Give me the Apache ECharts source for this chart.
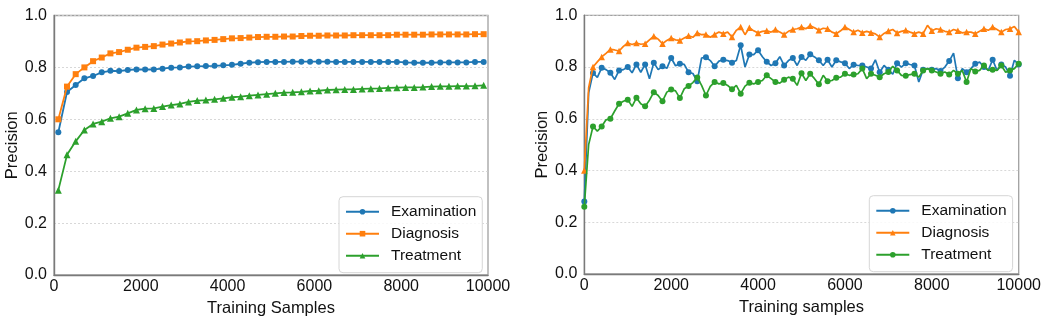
<!DOCTYPE html>
<html>
<head>
<meta charset="utf-8">
<script src="https://cdn.jsdelivr.net/npm/echarts@6/dist/echarts.min.js"></script>
<style>
  html, body { margin: 0; padding: 0; background: #fff; }
  #chart { width: 1051px; height: 328px; }
</style>
</head>
<body>
<div id="chart"></div>
<script>
// ---- left panel: smoothed precision curves, one point every 200 samples ----
const leftSamples = Array.from({ length: 50 }, (_, i) => 100 + 200 * i);

const leftExamination = [
  0.550, 0.705, 0.732, 0.758, 0.767, 0.781, 0.787, 0.786, 0.790, 0.792,
  0.792, 0.792, 0.795, 0.799, 0.800, 0.803, 0.804, 0.805, 0.806, 0.808,
  0.810, 0.814, 0.818, 0.820, 0.821, 0.821, 0.821, 0.822, 0.822, 0.822,
  0.822, 0.822, 0.821, 0.821, 0.821, 0.821, 0.821, 0.821, 0.821, 0.821,
  0.819, 0.818, 0.818, 0.818, 0.819, 0.819, 0.819, 0.819, 0.821, 0.821
];
const leftDiagnosis = [
  0.600, 0.726, 0.774, 0.800, 0.824, 0.838, 0.854, 0.859, 0.868, 0.876,
  0.879, 0.882, 0.888, 0.892, 0.896, 0.900, 0.901, 0.904, 0.906, 0.909,
  0.912, 0.913, 0.915, 0.917, 0.918, 0.918, 0.919, 0.919, 0.921, 0.922,
  0.922, 0.923, 0.923, 0.923, 0.924, 0.924, 0.924, 0.924, 0.924, 0.926,
  0.926, 0.926, 0.926, 0.927, 0.927, 0.927, 0.927, 0.927, 0.928, 0.928
];
const leftTreatment = [
  0.327, 0.463, 0.515, 0.559, 0.582, 0.591, 0.604, 0.610, 0.623, 0.636,
  0.641, 0.642, 0.649, 0.655, 0.659, 0.667, 0.672, 0.674, 0.677, 0.681,
  0.685, 0.687, 0.691, 0.694, 0.697, 0.700, 0.703, 0.704, 0.706, 0.709,
  0.710, 0.713, 0.714, 0.715, 0.715, 0.717, 0.718, 0.719, 0.721, 0.722,
  0.723, 0.723, 0.724, 0.726, 0.727, 0.727, 0.728, 0.728, 0.729, 0.731
];

// ---- right panel: raw precision, one point every 100 samples ----
const rightSamples = Array.from({ length: 101 }, (_, i) => 100 * i);

const rightExamination = [
  0.280, 0.700, 0.777, 0.760, 0.797, 0.790, 0.778, 0.752, 0.787, 0.790,
  0.800, 0.778, 0.810, 0.780, 0.810, 0.755, 0.817, 0.790, 0.803, 0.795,
  0.835, 0.805, 0.813, 0.810, 0.780, 0.775, 0.745, 0.835, 0.838, 0.825,
  0.803, 0.823, 0.828, 0.825, 0.817, 0.825, 0.884, 0.800, 0.848, 0.848,
  0.865, 0.840, 0.820, 0.806, 0.815, 0.840, 0.806, 0.825, 0.835, 0.806,
  0.839, 0.826, 0.849, 0.839, 0.826, 0.806, 0.828, 0.800, 0.826, 0.820,
  0.815, 0.794, 0.809, 0.806, 0.806, 0.800, 0.794, 0.828, 0.780, 0.806,
  0.790, 0.772, 0.815, 0.800, 0.815, 0.810, 0.806, 0.742, 0.790, 0.794,
  0.790, 0.794, 0.785, 0.800, 0.823, 0.854, 0.757, 0.794, 0.780, 0.794,
  0.813, 0.819, 0.800, 0.787, 0.828, 0.787, 0.810, 0.800, 0.766, 0.826,
  0.810
];
const rightDiagnosis = [
  0.400, 0.720, 0.800, 0.820, 0.839, 0.853, 0.868, 0.866, 0.862, 0.880,
  0.893, 0.887, 0.893, 0.888, 0.890, 0.905, 0.919, 0.908, 0.890, 0.903,
  0.912, 0.905, 0.903, 0.912, 0.921, 0.915, 0.932, 0.925, 0.926, 0.915,
  0.926, 0.935, 0.929, 0.935, 0.916, 0.942, 0.955, 0.925, 0.952, 0.940,
  0.932, 0.938, 0.940, 0.935, 0.945, 0.935, 0.926, 0.938, 0.945, 0.948,
  0.955, 0.948, 0.960, 0.952, 0.942, 0.950, 0.948, 0.935, 0.929, 0.940,
  0.955, 0.945, 0.935, 0.942, 0.933, 0.938, 0.933, 0.928, 0.916, 0.930,
  0.939, 0.945, 0.932, 0.938, 0.942, 0.935, 0.929, 0.935, 0.929, 0.961,
  0.940, 0.948, 0.945, 0.938, 0.935, 0.945, 0.940, 0.932, 0.935, 0.935,
  0.929, 0.938, 0.948, 0.942, 0.955, 0.945, 0.935, 0.945, 0.948, 0.957,
  0.935
];
const rightTreatment = [
  0.260, 0.500, 0.570, 0.552, 0.570, 0.596, 0.600, 0.630, 0.658, 0.668,
  0.674, 0.648, 0.681, 0.658, 0.648, 0.672, 0.703, 0.690, 0.668, 0.703,
  0.713, 0.708, 0.680, 0.716, 0.727, 0.740, 0.760, 0.729, 0.690, 0.725,
  0.742, 0.735, 0.738, 0.729, 0.714, 0.729, 0.697, 0.726, 0.739, 0.735,
  0.742, 0.748, 0.768, 0.755, 0.742, 0.738, 0.751, 0.761, 0.755, 0.729,
  0.776, 0.748, 0.774, 0.755, 0.733, 0.768, 0.745, 0.748, 0.759, 0.761,
  0.774, 0.768, 0.771, 0.774, 0.794, 0.755, 0.774, 0.768, 0.761, 0.774,
  0.781, 0.803, 0.787, 0.768, 0.766, 0.771, 0.774, 0.761, 0.787, 0.794,
  0.787, 0.781, 0.774, 0.781, 0.771, 0.787, 0.774, 0.787, 0.742, 0.794,
  0.783, 0.787, 0.806, 0.787, 0.790, 0.787, 0.806, 0.780, 0.787, 0.794,
  0.813
];

const xTicks = [0, 2000, 4000, 6000, 8000, 10000];
const yTicks = [0.0, 0.2, 0.4, 0.6, 0.8, 1.0];

const seriesNames = ['Examination', 'Diagnosis', 'Treatment'];
const colors = ['#1f77b4', '#ff7f0e', '#2ca02c'];
const RIGHT_SUFFIX = '#r';

const FONT = '"Liberation Sans", Arial, Helvetica, sans-serif';
const TEXT = '#111';

function pairs(xs, ys) {
  return ys.map((y, i) => [xs[i], y]);
}
// marker on every second point, plain vertices in between
function pairsMarkEvery2(xs, ys) {
  return ys.map((y, i) => (i % 2 === 0 ? { value: [xs[i], y] } : { value: [xs[i], y], symbol: 'none' }));
}

function xAxisFor(gridIndex, title) {
  return {
    type: 'value', gridIndex,
    min: xTicks[0], max: xTicks[xTicks.length - 1], interval: 2000,
    name: title, nameLocation: 'middle', nameGap: 22,
    nameTextStyle: { fontFamily: FONT, fontSize: 16.5, color: TEXT },
    axisLine: { show: true, lineStyle: { color: '#7a7a7a', width: 1.4 } },
    axisTick: { show: false },
    axisLabel: { fontFamily: FONT, fontSize: 16, color: TEXT, margin: 4,
                 formatter: v => String(v) },
    splitLine: { show: false }
  };
}
function yAxisFor(gridIndex) {
  return {
    type: 'value', gridIndex,
    min: yTicks[0], max: yTicks[yTicks.length - 1], interval: 0.2,
    name: 'Precision', nameLocation: 'middle', nameGap: 33, nameRotate: 90,
    nameTextStyle: { fontFamily: FONT, fontSize: 16.5, color: TEXT },
    axisLine: { show: true, lineStyle: { color: '#7a7a7a', width: 1.4 } },
    axisTick: { show: false },
    axisLabel: { fontFamily: FONT, fontSize: 16, color: TEXT, margin: 7,
                 formatter: v => v.toFixed(1) },
    splitLine: { show: true, lineStyle: { color: '#cfcfcf', width: 0.8, type: [2, 2] } }
  };
}

function legendAt(left, top, names) {
  return {
    orient: 'vertical', left, top,
    data: names,
    formatter: n => n.replace(RIGHT_SUFFIX, ''),
    itemWidth: 33, itemHeight: 7, itemGap: 0,
    padding: [4, 6, 6, 6],
    backgroundColor: 'rgba(255,255,255,0.85)',
    borderColor: '#d6d6d6', borderWidth: 1, borderRadius: 4,
    textStyle: { fontFamily: FONT, fontSize: 15.5, color: TEXT, lineHeight: 22,
                 padding: [0, 0, 0, 7] }
  };
}

const leftSymbols = ['circle', 'rect', 'triangle'];
const leftSizes = [6, 6, 7];
const leftData = [leftExamination, leftDiagnosis, leftTreatment];
const rightSymbols = ['circle', 'triangle', 'circle'];
const rightSizes = [6, 6.5, 6];
const rightData = [rightExamination, rightDiagnosis, rightTreatment];

const series = [];
seriesNames.forEach((name, k) => {
  series.push({
    type: 'line', name, xAxisIndex: 0, yAxisIndex: 0,
    data: pairs(leftSamples, leftData[k]),
    symbol: leftSymbols[k], symbolSize: leftSizes[k], showAllSymbol: true,
    lineStyle: { color: colors[k], width: 1.8 },
    itemStyle: { color: colors[k] },
    z: 2 + k
  });
});
seriesNames.forEach((name, k) => {
  series.push({
    type: 'line', name: name + RIGHT_SUFFIX, xAxisIndex: 1, yAxisIndex: 1,
    data: pairsMarkEvery2(rightSamples, rightData[k]),
    symbol: rightSymbols[k], symbolSize: rightSizes[k], showAllSymbol: true,
    lineStyle: { color: colors[k], width: 1.7 },
    itemStyle: { color: colors[k] },
    z: 2 + k
  });
});

const chart = echarts.init(document.getElementById('chart'), null, { renderer: 'canvas' });
chart.setOption({
  animation: false,
  backgroundColor: '#ffffff',
  grid: [
    { left: 54, right: 563, top: 15.5, bottom: 53, show: true, borderColor: '#a0a0a0', borderWidth: 1.3 },
    { left: 584.3, right: 32.3, top: 15.3, bottom: 54, show: true, borderColor: '#a0a0a0', borderWidth: 1.3 }
  ],
  xAxis: [xAxisFor(0, 'Training Samples'), xAxisFor(1, 'Training samples')],
  yAxis: [yAxisFor(0), yAxisFor(1)],
  legend: [
    legendAt(339, 196.7, seriesNames),
    legendAt(869.3, 195.7, seriesNames.map(n => n + RIGHT_SUFFIX))
  ],
  series
});
</script>
</body>
</html>
